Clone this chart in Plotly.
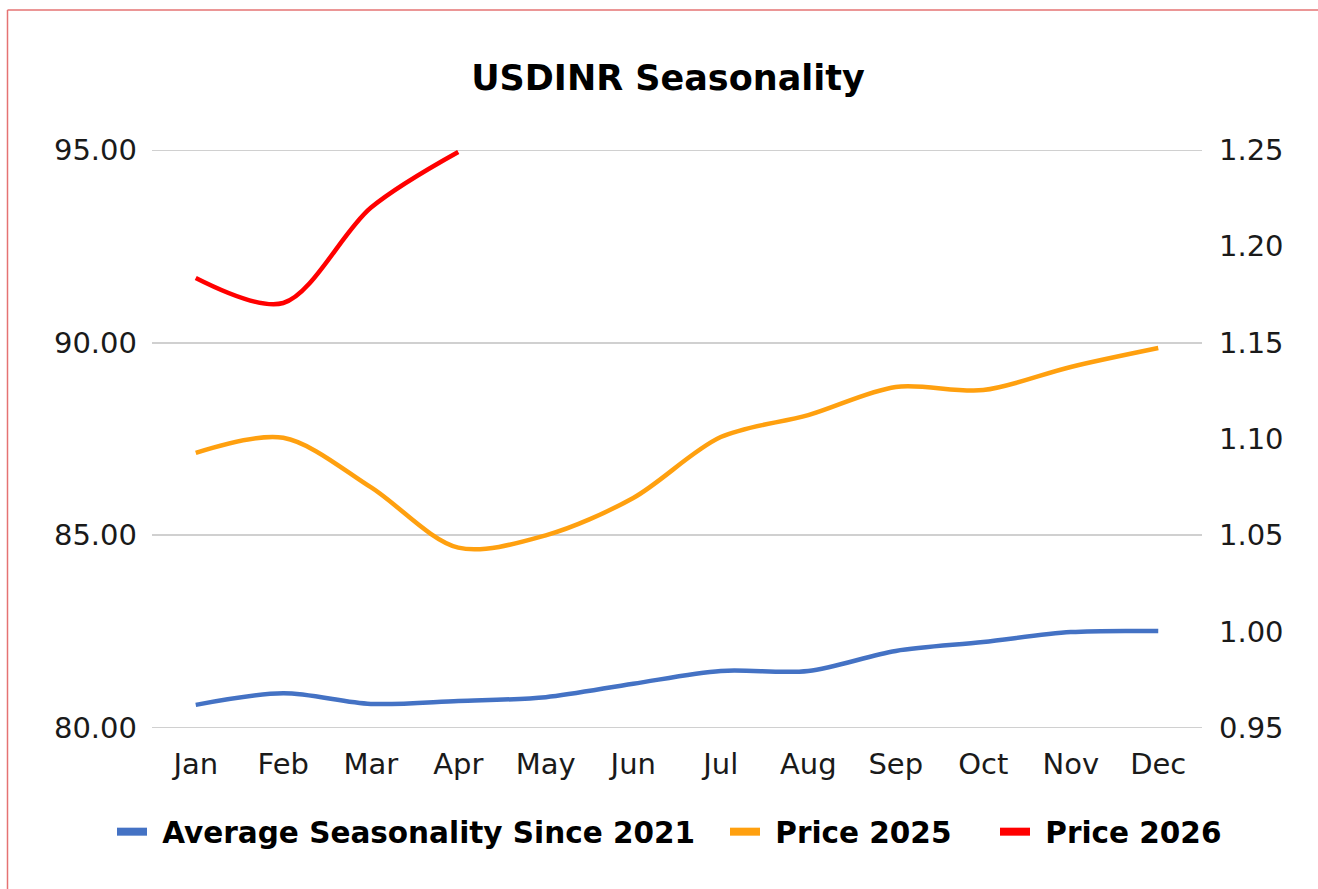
import plotly.graph_objects as go

months = ["Jan", "Feb", "Mar", "Apr", "May", "Jun", "Jul", "Aug", "Sep", "Oct", "Nov", "Dec"]
avg_seasonality = [0.962, 0.968, 0.9625, 0.964, 0.966, 0.973, 0.9796, 0.9796, 0.990, 0.9946, 0.9998, 1.0003]
price_2025 = [87.14, 87.53, 86.25, 84.68, 85.0, 85.97, 87.55, 88.12, 88.85, 88.77, 89.37, 89.86]
price_2026 = [91.68, 91.03, 93.50, 94.95]
left_ticks = [80, 85, 90, 95]
right_ticks = [0.95, 1.00, 1.05, 1.10, 1.15, 1.20, 1.25]

series_names = ["Average Seasonality Since 2021", "Price 2025", "Price 2026"]
series_colors = ["#4472C4", "#FFA00F", "#FF0000"]

FONT = "DejaVu Sans, Verdana, sans-serif"
NB = "\u00a0"

W, H = 1318, 889
L, R, T, B = 152, 116, 150, 161
pw, ph = W - L - R, H - T - B


def px_x(p):
    return (p - L) / pw


def px_y(p):
    return (H - B - p) / ph


fig = go.Figure()
line_style = dict(width=4.5, shape="spline", smoothing=0.9)
fig.add_trace(go.Scatter(
    x=months, y=avg_seasonality, name=series_names[0], mode="lines",
    line=dict(color=series_colors[0], **line_style), yaxis="y2", showlegend=False))
fig.add_trace(go.Scatter(
    x=months, y=price_2025, name=series_names[1], mode="lines",
    line=dict(color=series_colors[1], **line_style), showlegend=False))
fig.add_trace(go.Scatter(
    x=months[:len(price_2026)], y=price_2026, name=series_names[2], mode="lines",
    line=dict(color=series_colors[2], **line_style), showlegend=False))

# legend entries (one legend per item so spacing can match the reference)
legend_ids = ["legend", "legend2", "legend3"]
legend_left_px = [112, 725, 995]
for name, color, lid in zip(series_names, series_colors, legend_ids):
    fig.add_trace(go.Scatter(
        x=[None], y=[None], mode="lines", name=NB + name,
        line=dict(color=color, width=8), showlegend=True, legend=lid,
        hoverinfo="skip"))

legend_font = dict(family=FONT, size=29.5, weight="bold", color="#000000")
legends = {}
for lid, lx in zip(legend_ids, legend_left_px):
    legends[lid] = dict(orientation="h", x=px_x(lx), xanchor="left",
                        y=px_y(832), yanchor="middle", font=legend_font,
                        bgcolor="rgba(0,0,0,0)", borderwidth=0)

grid_color = "#D0D0D0"
fig.update_layout(
    width=W, height=H,
    margin=dict(l=L, r=R, t=T, b=B, autoexpand=False),
    paper_bgcolor="white", plot_bgcolor="white",
    font=dict(family=FONT, size=29, color="#1a1a1a"),
    title=dict(text="USDINR Seasonality", x=668 / W, xanchor="center",
               y=1 - 78 / H, yanchor="middle",
               font=dict(family=FONT, size=35, weight="bold", color="#000000")),
    xaxis=dict(type="category", range=[-0.5, 11.5], showgrid=False, showline=False,
               zeroline=False, ticks="", ticklabelstandoff=16,
               tickfont=dict(size=29, color="#1a1a1a")),
    yaxis=dict(range=[left_ticks[0], left_ticks[-1]], tickvals=left_ticks, tickformat=".2f",
               showgrid=True, gridcolor=grid_color, gridwidth=2,
               zeroline=False, showline=False, ticks="", ticklabelstandoff=14,
               tickfont=dict(size=29, color="#1a1a1a")),
    yaxis2=dict(range=[right_ticks[0], right_ticks[-1]], tickvals=right_ticks, tickformat=".2f",
                overlaying="y", side="right", showgrid=False, zeroline=False,
                showline=False, ticks="", ticklabelstandoff=16,
                tickfont=dict(size=29, color="#1a1a1a")),
    shapes=[
        dict(type="line", xref="paper", yref="y", x0=0, x1=1,
             y0=left_ticks[0], y1=left_ticks[0], layer="below",
             line=dict(color=grid_color, width=2)),
        dict(type="line", xref="paper", yref="y", x0=0, x1=1,
             y0=left_ticks[-1], y1=left_ticks[-1], layer="below",
             line=dict(color=grid_color, width=2)),
        dict(type="line", xref="paper", yref="paper",
             x0=px_x(7.5), x1=px_x(1330), y0=px_y(10), y1=px_y(10),
             line=dict(color="#E57373", width=1.5)),
        dict(type="line", xref="paper", yref="paper",
             x0=px_x(7.5), x1=px_x(7.5), y0=px_y(10), y1=px_y(900),
             line=dict(color="#E57373", width=1.5)),
    ],
    **legends,
)

fig.write_html("out.html", config={"displayModeBar": False},
               post_script="document.body.style.margin='0';")
